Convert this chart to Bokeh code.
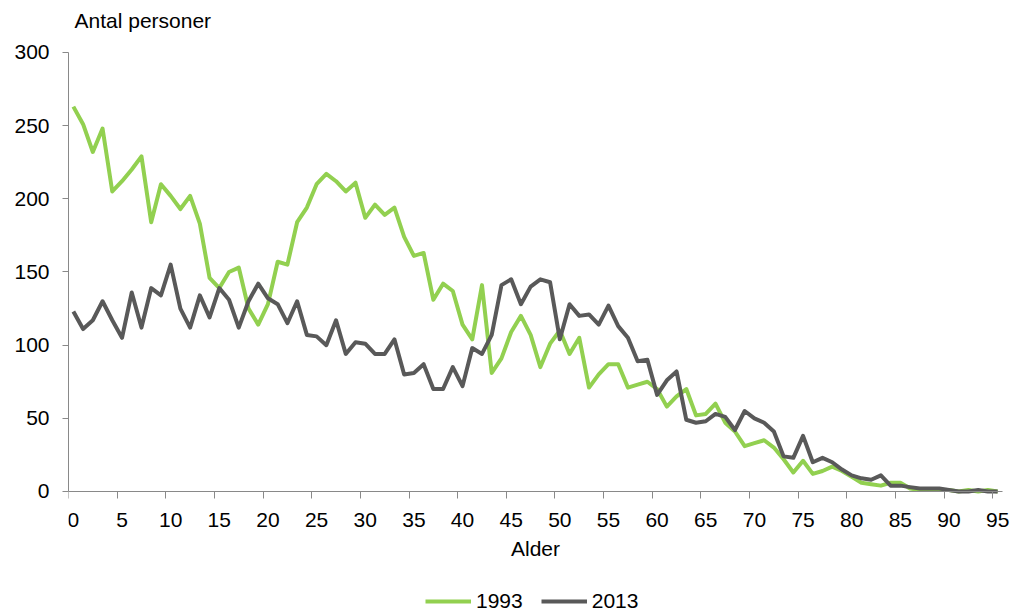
from bokeh.plotting import figure
from bokeh.models import FixedTicker, Legend, LegendItem, Range1d, Label
from bokeh.embed import file_html
from bokeh.resources import INLINE

ages = list(range(96))
pop_1993 = [263, 251, 232, 248, 205, 212, 220, 229, 184, 210,
            202, 193, 202, 183, 146, 139, 150, 153, 125, 114,
            128, 157, 155, 184, 194, 210, 217, 212, 205, 211,
            187, 196, 189, 194, 174, 161, 163, 131, 142, 137,
            114, 104, 141, 81, 91, 109, 120, 107, 85, 101,
            110, 94, 105, 71, 80, 87, 87, 71, 73, 75,
            70, 58, 65, 70, 52, 53, 60, 47, 41, 31,
            33, 35, 30, 22, 13, 21, 12, 14, 17, 14,
            10, 6, 5, 4, 6, 6, 2, 1, 1, 1,
            1, 0, 1, 0, 1, 0]
pop_2013 = [123, 111, 117, 130, 117, 105, 136, 112, 139, 134,
            155, 125, 112, 134, 119, 139, 131, 112, 130, 142,
            132, 128, 115, 130, 107, 106, 100, 117, 94, 102,
            101, 94, 94, 104, 80, 81, 87, 70, 70, 85,
            72, 98, 94, 107, 141, 145, 128, 140, 145, 143,
            104, 128, 120, 121, 114, 127, 113, 105, 89, 90,
            66, 76, 82, 49, 47, 48, 53, 51, 42, 55,
            50, 47, 41, 24, 23, 38, 20, 23, 20, 15,
            11, 9, 8, 11, 4, 4, 3, 2, 2, 2,
            1, 0, 0, 1, 0, 0]
series_names = ["1993", "2013"]
x_ticks = list(range(0, 96, 5))
x_tick_bounds = [t - 0.5 for t in x_ticks]
y_ticks = list(range(0, 301, 50))

FONT = "Liberation Sans"
AXIS_COLOR = "#898989"

# frame covers the full canvas height; axes sit at y = 0 / value range 0..300
p = figure(width=1013, height=611, output_backend="svg", toolbar_location=None,
           x_range=Range1d(-0.5, 96.63), y_range=Range1d(-82.0, 335.5),
           min_border_left=68, min_border_right=0, min_border_top=0,
           min_border_bottom=0)

p.outline_line_color = None
p.xgrid.grid_line_color = None
p.ygrid.grid_line_color = None

xa = p.xaxis[0]
xa.fixed_location = 0
xa.bounds = (-0.5, 95.5)
xa.ticker = FixedTicker(ticks=x_ticks, minor_ticks=x_tick_bounds)
xa.major_tick_out = 0
xa.major_tick_in = 0
xa.minor_tick_out = 7
xa.minor_tick_in = 0
xa.minor_tick_line_color = AXIS_COLOR
xa.axis_line_color = AXIS_COLOR
xa.major_label_text_font = FONT
xa.major_label_text_font_size = "21px"
xa.major_label_text_color = "#000000"
xa.major_label_standoff = 15
xa.axis_label = "Alder"
xa.axis_label_text_font = FONT
xa.axis_label_text_font_size = "21px"
xa.axis_label_text_font_style = "normal"
xa.axis_label_text_color = "#000000"
xa.axis_label_standoff = 6

ya = p.yaxis[0]
ya.ticker = FixedTicker(ticks=y_ticks)
ya.bounds = (0, 300)
ya.major_tick_out = 6
ya.major_tick_in = 0
ya.major_tick_line_color = AXIS_COLOR
ya.minor_tick_line_color = None
ya.axis_line_color = AXIS_COLOR
ya.major_label_text_font = FONT
ya.major_label_text_font_size = "21px"
ya.major_label_text_color = "#000000"
ya.major_label_standoff = 13

r1 = p.line(ages, pop_1993, line_color="#92D050", line_width=4, line_join="round")
r2 = p.line(ages, pop_2013, line_color="#595959", line_width=4, line_join="round")

title = Label(x=6, y=591, x_units="screen", y_units="screen",
              text="Antal personer", text_font=FONT, text_font_size="21px",
              text_color="#000000", text_baseline="middle", text_align="left")
p.add_layout(title)

legend = Legend(items=[LegendItem(label=series_names[0], renderers=[r1]),
                       LegendItem(label=series_names[1], renderers=[r2])],
                location=(357, -2), orientation="horizontal",
                glyph_width=46, glyph_height=20, label_standoff=5, spacing=18,
                padding=0, margin=0, border_line_color=None,
                background_fill_alpha=0,
                label_text_font=FONT, label_text_font_size="21px",
                label_text_color="#000000")
p.add_layout(legend, "center")

open("out.html", "w").write(file_html(p, INLINE))
